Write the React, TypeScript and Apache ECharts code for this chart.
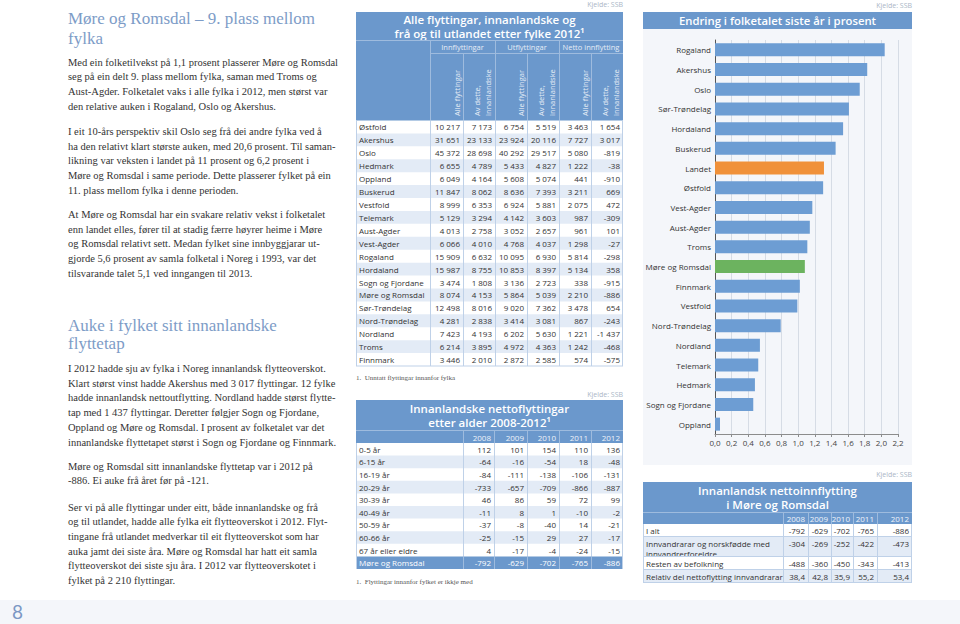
import React, { useEffect, useRef } from "react";
import * as echarts from "echarts";

// ---------- Bar chart data ----------
const barCategories = [
  "Rogaland", "Akershus", "Oslo", "Sør-Trøndelag", "Hordaland", "Buskerud", "Landet",
  "Østfold", "Vest-Agder", "Aust-Agder", "Troms", "Møre og Romsdal", "Finnmark",
  "Vestfold", "Nord-Trøndelag", "Nordland", "Telemark", "Hedmark", "Sogn og Fjordane", "Oppland",
];
const barValues = [
  2.04, 1.83, 1.74, 1.61, 1.54, 1.45, 1.31, 1.30, 1.17, 1.14, 1.11, 1.08, 1.02,
  0.99, 0.79, 0.54, 0.52, 0.48, 0.46, 0.06,
];
const barTitle = "Endring i folketalet siste år i prosent";

// ---------- Table 1 ----------
const t1Title = ["Alle flyttingar, innanlandske og", "frå og til utlandet etter fylke 2012¹"];
const t1Groups = ["Innflyttingar", "Utflyttingar", "Netto innflytting"];
const t1Fylke = [
  "Østfold", "Akershus", "Oslo", "Hedmark", "Oppland", "Buskerud", "Vestfold", "Telemark",
  "Aust-Agder", "Vest-Agder", "Rogaland", "Hordaland", "Sogn og Fjordane", "Møre og Romsdal",
  "Sør-Trøndelag", "Nord-Trøndelag", "Nordland", "Troms", "Finnmark",
];
const t1InnAlle = [10217, 31651, 45372, 6655, 6049, 11847, 8999, 5129, 4013, 6066, 15909, 15987, 3474, 8074, 12498, 4281, 7423, 6214, 3446];
const t1InnInnl = [7173, 23133, 28698, 4789, 4164, 8062, 6353, 3294, 2758, 4010, 6632, 8755, 1808, 4153, 8016, 2838, 4193, 3895, 2010];
const t1UtAlle = [6754, 23924, 40292, 5433, 5608, 8636, 6924, 4142, 3052, 4768, 10095, 10853, 3136, 5864, 9020, 3414, 6202, 4972, 2872];
const t1UtInnl = [5519, 20116, 29517, 4827, 5074, 7393, 5881, 3603, 2657, 4037, 6930, 8397, 2723, 5039, 7362, 3081, 5630, 4363, 2585];
const t1NettoAlle = [3463, 7727, 5080, 1222, 441, 3211, 2075, 987, 961, 1298, 5814, 5134, 338, 2210, 3478, 867, 1221, 1242, 574];
const t1NettoInnl = [1654, 3017, -819, -38, -910, 669, 472, -309, 101, -27, -298, 358, -915, -886, 654, -243, -1437, -468, -575];
const t1Note = "1.  Unntatt flyttingar innanfor fylka";

// ---------- Table 2 ----------
const t2Title = ["Innanlandske nettoflyttingar", "etter alder 2008-2012¹"];
const t2Years = ["2008", "2009", "2010", "2011", "2012"];
const t2Rows = ["0-5 år", "6-15 år", "16-19 år", "20-29 år", "30-39 år", "40-49 år", "50-59 år", "60-66 år", "67 år eller eldre", "Møre og Romsdal"];
const t2Y2008 = [112, -64, -84, -733, 46, -11, -37, -25, 4, -792];
const t2Y2009 = [101, -16, -111, -657, 86, 8, -8, -15, -17, -629];
const t2Y2010 = [154, -54, -138, -709, 59, 1, -40, 29, -4, -702];
const t2Y2011 = [110, 18, -106, -866, 72, -10, 14, 27, -24, -765];
const t2Y2012 = [136, -48, -131, -887, 99, -2, -21, -17, -15, -886];
const t2Note = "1.  Flyttingar innanfor fylket er ikkje med";

// ---------- Table 3 ----------
const t3Title = ["Innanlandsk nettoinnflytting", "i Møre og Romsdal"];
const t3Years = ["2008", "2009", "2010", "2011", "2012"];
const t3Rows = [["I alt"], ["Innvandrarar og norskfødde med", "innvandrerforeldre"], ["Resten av befolkning"], ["Relativ del nettoflytting innvandrarar"]];
const t3Y2008 = [-792, -304, -488, 38.4];
const t3Y2009 = [-629, -269, -360, 42.8];
const t3Y2010 = [-702, -252, -450, 35.9];
const t3Y2011 = [-765, -422, -343, 55.2];
const t3Y2012 = [-886, -473, -413, 53.4];

// ---------- Article text ----------
const heading1 = ["Møre og Romsdal – 9. plass mellom", "fylka"];
const para1 = [
  "Med ein folketilvekst på 1,1 prosent plasserer Møre og Romsdal",
  "seg på ein delt 9. plass mellom fylka, saman med Troms og",
  "Aust-Agder. Folketalet vaks i alle fylka i 2012, men størst var",
  "den relative auken i Rogaland, Oslo og Akershus.",
];
const para2 = [
  "I eit 10-års perspektiv skil Oslo seg frå dei andre fylka ved å",
  "ha den relativt klart største auken, med 20,6 prosent. Til saman-",
  "likning var veksten i landet på 11 prosent og 6,2 prosent i",
  "Møre og Romsdal i same periode. Dette plasserer fylket på ein",
  "11. plass mellom fylka i denne perioden.",
];
const para3 = [
  "At Møre og Romsdal har ein svakare relativ vekst i folketalet",
  "enn landet elles, fører til at stadig færre høyrer heime i Møre",
  "og Romsdal relativt sett. Medan fylket sine innbyggjarar ut-",
  "gjorde 5,6 prosent av samla folketal i Noreg i 1993, var det",
  "tilsvarande talet 5,1 ved inngangen til 2013.",
];
const heading2 = ["Auke i fylket sitt innanlandske", "flyttetap"];
const para4 = [
  "I 2012 hadde sju av fylka i Noreg innanlandsk flytteoverskot.",
  "Klart størst vinst hadde Akershus med 3 017 flyttingar. 12 fylke",
  "hadde innanlandsk nettoutflytting. Nordland hadde størst flytte-",
  "tap med 1 437 flyttingar. Deretter følgjer Sogn og Fjordane,",
  "Oppland og Møre og Romsdal. I prosent av folketalet var det",
  "innanlandske flyttetapet størst i Sogn og Fjordane og Finnmark.",
];
const para5 = [
  "Møre og Romsdal sitt innanlandske flyttetap var i 2012 på",
  "-886. Ei auke frå året før på -121.",
];
const para6 = [
  "Ser vi på alle flyttingar under eitt, både innanlandske og frå",
  "og til utlandet, hadde alle fylka eit flytteoverskot i 2012. Flyt-",
  "tingane frå utlandet medverkar til eit flytteoverskot som har",
  "auka jamt dei siste åra. Møre og Romsdal har hatt eit samla",
  "flytteoverskot dei siste sju åra. I 2012 var flytteoverskotet i",
  "fylket på 2 210 flyttingar.",
];
const pageNumber = "8";
const sourceLabel = "Kjelde: SSB";

// ---------- helpers ----------
const BLUE = "#6b98cc";
const LIGHT = "#e3ebf6";
const GRIDC = "#bfd1e8";
const HDRLINE = "#9ebbde";
const SANS = '"Open Sans", "Noto Sans", sans-serif';
const SERIF = '"Liberation Serif", "DejaVu Serif", serif';

function fmtInt(n: number): string {
  const s = Math.abs(n).toString().replace(/\B(?=(\d{3})+(?!\d))/g, " ");
  return (n < 0 ? "-" : "") + s;
}
function fmtDec(n: number): string {
  return n.toFixed(1).replace(".", ",");
}

function buildGraphics() {
  const els: any[] = [];
  const txt = (text: string, x: number, y: number, font: string, fill: string, align = "left", vAlign = "middle", extra: any = {}) =>
    els.push({
      type: "text", x, y, silent: true, ...extra,
      style: { text, font, fill, align, textAlign: align, verticalAlign: vAlign, textVerticalAlign: vAlign },
    });
  const rect = (x: number, y: number, w: number, h: number, fill: string, extra: any = {}) =>
    els.push({ type: "rect", silent: true, shape: { x, y, width: w, height: h }, style: { fill }, ...extra });
  const line = (x1: number, y1: number, x2: number, y2: number, stroke: string, lw = 1) =>
    els.push({ type: "line", silent: true, shape: { x1, y1, x2, y2 }, style: { stroke, lineWidth: lw } });

  // ---- left article ----
  const LX = 68;
  const headFont = `17px ${SERIF}`;
  const bodyFont = `10.5px ${SERIF}`;
  const HEADC = "#7d9cc7";
  const BODYC = "#333333";
  const LH = 14.7;
  txt(heading1[0], LX, 18, headFont, HEADC);
  txt(heading1[1], LX, 38, headFont, HEADC);
  para1.forEach((l, i) => txt(l, LX, 62 + i * LH, bodyFont, BODYC));
  para2.forEach((l, i) => txt(l, LX, 131.5 + i * LH, bodyFont, BODYC));
  para3.forEach((l, i) => txt(l, LX, 214.5 + i * LH, bodyFont, BODYC));
  txt(heading2[0], LX, 325, headFont, HEADC);
  txt(heading2[1], LX, 343, headFont, HEADC);
  para4.forEach((l, i) => txt(l, LX, 368.5 + i * LH, bodyFont, BODYC));
  para5.forEach((l, i) => txt(l, LX, 466 + i * LH, bodyFont, BODYC));
  para6.forEach((l, i) => txt(l, LX, 507 + i * LH, bodyFont, BODYC));

  // ---- bottom band ----
  rect(0, 600, 960, 24, "#f4f6fa", { z: -20 });
  txt(pageNumber, 12, 611.5, `19px Lato, ${SANS}`, "#7b98c4");

  const srcFont = `7px ${SANS}`;
  const srcC = "#aab6c6";
  const cellFont = `8px ${SANS}`;
  const cellC = "#333333";
  const noteFont = `7px ${SERIF}`;

  // ---- Table 1 ----
  {
    const x0 = 356, x1 = 623;
    const cols = [430, 463, 495, 527, 559, 591, 623];
    const top = 12, hdrEnd = 120.5, rowH = (366 - 120.5) / 19;
    txt(sourceLabel, x1, 4, srcFont, srcC, "right");
    rect(x0, top, x1 - x0, hdrEnd - top, BLUE);
    txt(t1Title[0], (x0 + x1) / 2, 19, `600 11.5px ${SANS}`, "#ffffff", "center");
    txt(t1Title[1], (x0 + x1) / 2, 33, `600 11.5px ${SANS}`, "#ffffff", "center");
    line(x0, 40.5, x1, 40.5, HDRLINE);
    line(cols[0], 53.5, x1, 53.5, HDRLINE);
    [0, 2, 4].forEach((g, gi) => {
      txt(t1Groups[gi], (cols[g] + cols[g + 2]) / 2, 47, `7.5px ${SANS}`, "#e6edf7", "center");
      line(cols[g] + 0.5, 40.5, cols[g] + 0.5, hdrEnd, HDRLINE);
      line(cols[g + 1] + 0.5, 53.5, cols[g + 1] + 0.5, hdrEnd, HDRLINE);
    });
    [0, 2, 4].forEach((g) => {
      txt("Alle flyttingar", cols[g + 1] - 6, 116, `7.5px ${SANS}`, "#e6edf7", "left", "middle", { rotation: Math.PI / 2 });
      txt("Av dette,", cols[g + 1] + 14, 116, `7.5px ${SANS}`, "#e6edf7", "left", "middle", { rotation: Math.PI / 2 });
      txt("innanlandske", cols[g + 1] + 25, 116, `7.5px ${SANS}`, "#e6edf7", "left", "middle", { rotation: Math.PI / 2 });
    });
    const colsData = [t1InnAlle, t1InnInnl, t1UtAlle, t1UtInnl, t1NettoAlle, t1NettoInnl];
    t1Fylke.forEach((name, r) => {
      const y = hdrEnd + r * rowH;
      if (r % 2 === 1) rect(x0, y, x1 - x0, rowH, LIGHT);
      txt(name, x0 + 3, y + rowH / 2, cellFont, cellC);
      colsData.forEach((arr, c) => txt(fmtInt(arr[r]), cols[c + 1] - 3, y + rowH / 2, cellFont, cellC, "right"));
    });
    cols.slice(0, 6).forEach((cx) => line(cx + 0.5, hdrEnd, cx + 0.5, 366, GRIDC));
    line(x0 + 0.5, hdrEnd, x0 + 0.5, 366, GRIDC);
    line(x1 - 0.5, hdrEnd, x1 - 0.5, 366, GRIDC);
    line(x0, 366, x1, 366, GRIDC);
    txt(t1Note, x0, 377.5, noteFont, "#555555");
  }

  // ---- Table 2 ----
  {
    const x0 = 356, x1 = 623;
    const cols = [463, 494, 527, 559, 591, 623];
    const top = 400, yr = 430.5, hdrEnd = 443, rowH = 12.6;
    txt(sourceLabel, x1, 394, srcFont, srcC, "right");
    rect(x0, top, x1 - x0, hdrEnd - top, BLUE);
    txt(t2Title[0], (x0 + x1) / 2, 408.5, `600 11.5px ${SANS}`, "#ffffff", "center");
    txt(t2Title[1], (x0 + x1) / 2, 422.5, `600 11.5px ${SANS}`, "#ffffff", "center");
    line(x0, yr, x1, yr, HDRLINE);
    t2Years.forEach((y, i) => txt(y, cols[i + 1] - 3, 437, cellFont, "#eef3fa", "right"));
    const colsData = [t2Y2008, t2Y2009, t2Y2010, t2Y2011, t2Y2012];
    t2Rows.forEach((name, r) => {
      const y = hdrEnd + r * rowH;
      const total = r === t2Rows.length - 1;
      if (total) rect(x0, y, x1 - x0, rowH, BLUE);
      else if (r % 2 === 1) rect(x0, y, x1 - x0, rowH, LIGHT);
      const c = total ? "#ffffff" : cellC;
      txt(name, x0 + 3, y + rowH / 2, cellFont, c);
      colsData.forEach((arr, ci) => txt(fmtInt(arr[r]), cols[ci + 1] - 3, y + rowH / 2, cellFont, c, "right"));
    });
    const bottom = hdrEnd + t2Rows.length * rowH;
    cols.slice(0, 5).forEach((cx) => {
      line(cx + 0.5, yr, cx + 0.5, hdrEnd, HDRLINE);
      line(cx + 0.5, hdrEnd, cx + 0.5, bottom - rowH, GRIDC);
      line(cx + 0.5, bottom - rowH, cx + 0.5, bottom, HDRLINE);
    });
    line(x0 + 0.5, hdrEnd, x0 + 0.5, bottom, GRIDC);
    line(x1 - 0.5, hdrEnd, x1 - 0.5, bottom, GRIDC);
    txt(t2Note, x0, 581.5, noteFont, "#555555");
  }

  // ---- Bar chart frame ----
  {
    const x0 = 643, x1 = 912;
    txt(sourceLabel, x1, 5, srcFont, srcC, "right");
    rect(x0, 12, x1 - x0, 17, BLUE);
    txt(barTitle, (x0 + x1) / 2, 20.5, `600 11.3px ${SANS}`, "#ffffff", "center");
    rect(x0, 29, x1 - x0, 436, "#f4f6fa", { z: -20 });
  }

  // ---- Table 3 ----
  {
    const x0 = 643, x1 = 912;
    const cols = [783, 808, 831, 853, 877, 912];
    const top = 482, yr = 512, hdrEnd = 524;
    const rowTops = [524, 537, 557, 570, 583];
    txt(sourceLabel, x1, 474, srcFont, srcC, "right");
    rect(x0, top, x1 - x0, hdrEnd - top, BLUE);
    txt(t3Title[0], (x0 + x1) / 2, 490.5, `600 11.5px ${SANS}`, "#ffffff", "center");
    txt(t3Title[1], (x0 + x1) / 2, 504, `600 11.5px ${SANS}`, "#ffffff", "center");
    line(x0, yr + 0.5, x1, yr + 0.5, HDRLINE);
    t3Years.forEach((y, i) => txt(y, cols[i + 1] - 3, 518.5, cellFont, "#eef3fa", "right"));
    const colsData = [t3Y2008, t3Y2009, t3Y2010, t3Y2011, t3Y2012];
    t3Rows.forEach((lines, r) => {
      const y = rowTops[r];
      const h = rowTops[r + 1] - y;
      if (r % 2 === 1) rect(x0, y, x1 - x0, h, LIGHT);
      const first = lines.length > 1 ? y + 6.5 : y + h / 2;
      lines.forEach((l, li) => txt(l, x0 + 3, first + li * 10, cellFont, cellC));
      colsData.forEach((arr, ci) => {
        const v = arr[r];
        const s = r === 3 ? fmtDec(v) : fmtInt(v);
        txt(s, cols[ci + 1] - 3, first, cellFont, cellC, "right");
      });
      line(x0, rowTops[r + 1] - 0.5, x1, rowTops[r + 1] - 0.5, GRIDC);
    });
    cols.slice(0, 5).forEach((cx) => {
      line(cx + 0.5, yr, cx + 0.5, hdrEnd, HDRLINE);
      line(cx + 0.5, hdrEnd, cx + 0.5, 583, GRIDC);
    });
    line(x0 + 0.5, hdrEnd, x0 + 0.5, 583, GRIDC);
    line(x1 - 0.5, hdrEnd, x1 - 0.5, 583, GRIDC);
  }
  return els;
}

export default function App() {
  const ref = useRef<HTMLDivElement>(null);
  useEffect(() => {
    if (!ref.current) return;
    const chart = echarts.init(ref.current, undefined, { renderer: "svg" });
    const barColor = (name: string) =>
      name === "Landet" ? "#f0913a" : name === "Møre og Romsdal" ? "#6cb35f" : "#6d9dd3";
    chart.setOption({
      animation: false,
      backgroundColor: "#ffffff",
      grid: { left: 715, top: 40, width: 183, height: 394, containLabel: false },
      xAxis: {
        type: "value",
        min: 0,
        max: 2.2,
        interval: 0.2,
        axisLine: { show: true, lineStyle: { color: "#8c8c8c" } },
        axisTick: { show: true, length: 3, lineStyle: { color: "#8c8c8c" } },
        splitLine: { show: true, lineStyle: { color: "#d6dce5" } },
        axisLabel: {
          formatter: (v: number) => v.toFixed(1).replace(".", ","),
          fontSize: 8,
          fontFamily: SANS,
          color: "#444444",
          margin: 4,
        },
      },
      yAxis: {
        type: "category",
        inverse: true,
        data: barCategories,
        axisLine: { show: true, lineStyle: { color: "#555555" } },
        axisTick: { show: false },
        axisLabel: { fontSize: 8, fontFamily: SANS, color: "#333333", margin: 4 },
      },
      series: [
        {
          type: "bar",
          barWidth: 13,
          data: barValues.map((v, i) => ({ value: v, itemStyle: { color: barColor(barCategories[i]) } })),
        },
      ],
      graphic: { elements: buildGraphics() },
    });
    return () => chart.dispose();
  }, []);
  return <div ref={ref} style={{ position: "absolute", left: 0, top: 0, width: 960, height: 624 }} />;
}
